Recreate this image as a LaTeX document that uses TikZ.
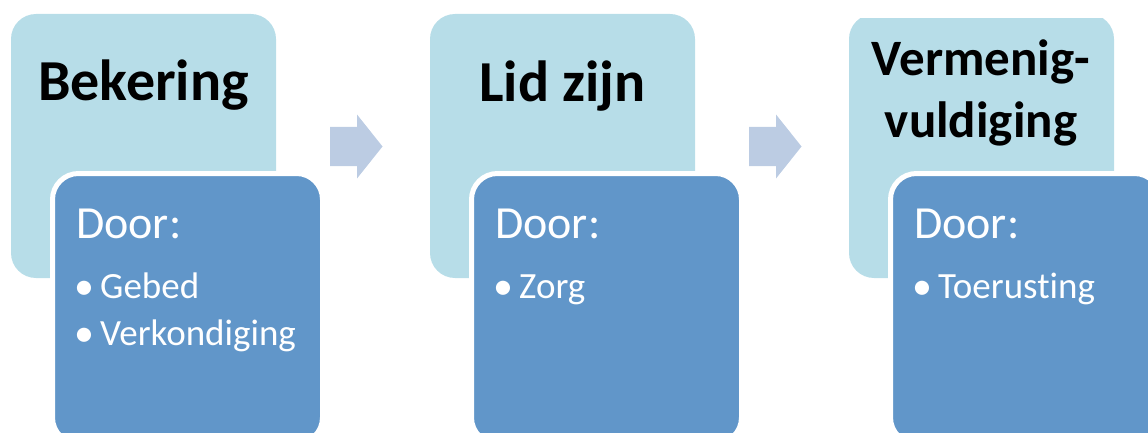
\documentclass[tikz,border=0pt]{standalone}
\usepackage{fontspec}
\setmainfont{Carlito}[Ligatures=NoCommon]
\definecolor{lightbox}{HTML}{B7DDE8}
\definecolor{darkbox}{HTML}{6196C9}
\definecolor{arrowc}{HTML}{BCCCE3}
\tikzset{
  topbox/.style={rectangle, rounded corners=25pt, fill=lightbox, minimum width=265pt, minimum height=264pt, inner sep=0pt},
  subbox/.style={rectangle, rounded corners=26pt, fill=darkbox, draw=white, line width=5pt, minimum width=270pt, minimum height=270pt, inner sep=0pt},
  hdr/.style={font=\fontsize{51}{62}\selectfont\bfseries, text=black, inner sep=0pt, anchor=base},
  bighdr/.style={hdr, font=\fontsize{58}{70}\selectfont\bfseries},
  door/.style={font=\fontsize{46}{55}\selectfont, text=white, inner sep=0pt, anchor=base west},
  item/.style={font=\fontsize{37}{45}\selectfont, text=white, inner sep=0pt, anchor=base west},
  bul/.style={font=\fontsize{40}{48}\selectfont, text=white, inner sep=0pt, anchor=base west},
  blockarrow/.style={fill=arrowc}
}
\begin{document}
\begin{tikzpicture}[x=1pt,y=-1pt]
\useasboundingbox (0,0) rectangle (1148,433);
\clip (0,0) rectangle (1148,433);
% panel 1
\node[topbox] (top1) at (143.5,146) {};
\node[subbox] (sub1) at (187.5,308.5) {};
\node[bighdr] (h1) at (143.5,101) {Bekering};
\node[door] (d1) at (76,238) {Door:};
\node[bul] (b1a) at (74,299) {•};
\node[item] (i1a) at (100,298) {Gebed};
\node[bul] (b1b) at (74,346) {•};
\node[item] (i1b) at (100,345) {Verkondiging};
% panel 2
\node[topbox] (top2) at (562.5,146) {};
\node[subbox] (sub2) at (606.5,308.5) {};
\node[bighdr] (h2) at (562.5,102) {Lid zijn};
\node[door] (d2) at (495,238) {Door:};
\node[bul] (b2a) at (493,299) {•};
\node[item] (i2a) at (519,298) {Zorg};
% panel 3
\begin{scope}
\clip (838,19) rectangle (1148,433);
\node[topbox] (top3) at (981.5,146) {};
\end{scope}
\node[subbox] (sub3) at (1025.5,308.5) {};
\node[hdr] (h3a) at (981,76) {Vermenig-};
\node[hdr] (h3b) at (981,138) {vuldiging};
\node[door] (d3) at (914,238) {Door:};
\node[bul] (b3a) at (912,299) {•};
\node[item] (i3a) at (938,298) {Toerusting};
% arrows
\coordinate (a1) at (330,146.5);
\coordinate (a2) at (749,146.5);
\foreach \a in {a1,a2}{
  \fill[blockarrow] ([shift={(0,-19.5)}]\a) -- ([shift={(27,-19.5)}]\a) -- ([shift={(27,-32)}]\a) -- ([shift={(52.5,0)}]\a) -- ([shift={(27,32)}]\a) -- ([shift={(27,19.5)}]\a) -- ([shift={(0,19.5)}]\a) -- cycle;
}
\end{tikzpicture}
\end{document}
